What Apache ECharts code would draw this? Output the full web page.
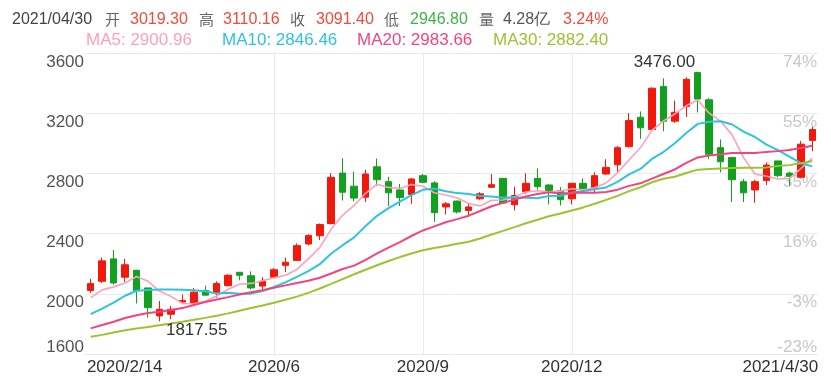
<!DOCTYPE html>
<html>
<head>
<meta charset="utf-8">
<title>周K</title>
<script src="https://cdn.jsdelivr.net/npm/echarts/dist/echarts.min.js"></script>
<style>
html, body { margin: 0; padding: 0; background: #fff; }
#main { width: 831px; height: 376px; }
</style>
</head>
<body>
<div id="main"></div>
<script>
// 周K线日期（每周最后一个交易日）
var dates = ['2020/2/14', '2020/2/21', '2020/2/28', '2020/3/6', '2020/3/13', '2020/3/20', '2020/3/27', '2020/4/3',
    '2020/4/10', '2020/4/17', '2020/4/24', '2020/4/30', '2020/5/8', '2020/5/15', '2020/5/22', '2020/5/29',
    '2020/6/5', '2020/6/12', '2020/6/19', '2020/6/24', '2020/7/3', '2020/7/10', '2020/7/17', '2020/7/24',
    '2020/7/31', '2020/8/7', '2020/8/14', '2020/8/21', '2020/8/28', '2020/9/4', '2020/9/11', '2020/9/18',
    '2020/9/25', '2020/9/30', '2020/10/9', '2020/10/16', '2020/10/23', '2020/10/30', '2020/11/6', '2020/11/13',
    '2020/11/20', '2020/11/27', '2020/12/4', '2020/12/11', '2020/12/18', '2020/12/25', '2020/12/31', '2021/1/8',
    '2021/1/15', '2021/1/22', '2021/1/29', '2021/2/5', '2021/2/10', '2021/2/19', '2021/2/26', '2021/3/5',
    '2021/3/12', '2021/3/19', '2021/3/26', '2021/4/2', '2021/4/9', '2021/4/16', '2021/4/23', '2021/4/30'];

var openData = [2022, 2083, 2232, 2110, 2156, 2039, 1853, 1864, 1945, 1941, 2022, 2006, 2054, 2143, 2120, 2051,
    2110, 2189, 2222, 2331, 2386, 2467, 2802, 2715, 2642, 2844, 2745, 2690, 2660, 2785, 2737, 2577,
    2616, 2554, 2631, 2708, 2767, 2592, 2679, 2767, 2723, 2686, 2631, 2734, 2702, 2796, 2857, 2978,
    3173, 3092, 3377, 3147, 3245, 3470, 3289, 2971, 2906, 2745, 2690, 2752, 2883, 2802, 2774, 3019.30];
var closeData = [2068, 2219, 2072, 2193, 2022, 1908, 1897, 1897, 1956, 2011, 1991, 2068, 2123, 2123, 2039, 2083,
    2160, 2210, 2320, 2388, 2460, 2774, 2675, 2636, 2796, 2758, 2671, 2640, 2763, 2741, 2539, 2598,
    2544, 2577, 2664, 2725, 2603, 2653, 2734, 2712, 2686, 2625, 2734, 2697, 2785, 2840, 2971, 3151,
    3103, 3366, 3147, 3206, 3425, 3294, 2927, 2877, 2758, 2671, 2745, 2855, 2785, 2781, 2994.4, 3091.40];
var lowData = [2006, 2072, 2061, 2079, 1936, 1842, 1817.55, 1831, 1941, 1919, 1991, 1974, 2050, 2090, 2028, 2028,
    2105, 2145, 2219, 2322, 2357, 2460, 2620, 2614, 2610, 2715, 2583, 2583, 2598, 2735, 2478, 2528,
    2533, 2511, 2625, 2704, 2598, 2554, 2664, 2692, 2594, 2587, 2594, 2686, 2675, 2791, 2807, 2971,
    3030, 3087, 3080, 3136, 3175, 3205, 2894, 2807, 2610, 2610, 2605, 2723, 2774, 2719, 2767, 2946.80];
var highData = [2098, 2241, 2291, 2232, 2160, 2039, 1952, 1919, 1995, 2039, 2054, 2083, 2131, 2145, 2149, 2110,
    2171, 2240, 2335, 2395, 2467, 2802, 2901, 2811, 2824, 2899, 2778, 2730, 2769, 2796, 2748, 2610,
    2620, 2598, 2675, 2796, 2767, 2712, 2800, 2833, 2730, 2708, 2734, 2767, 2807, 2894, 2982, 3201,
    3212, 3372, 3432, 3284, 3438, 3476.00, 3300, 3026, 2906, 2763, 2758, 2873, 2883, 2811, 3015, 3110.16];

// 均线
var ma5 = [1974, 2026, 2046, 2072, 2115, 2083, 2018, 1983, 1936, 1934, 1950, 1985, 2030, 2063, 2069, 2087,
    2106, 2123, 2162, 2232, 2308, 2430, 2523, 2587, 2668, 2728, 2707, 2700, 2726, 2715, 2671, 2656,
    2637, 2600, 2584, 2622, 2623, 2644, 2676, 2685, 2678, 2682, 2698, 2691, 2705, 2736, 2805, 2889,
    2970, 3086, 3148, 3195, 3249, 3288, 3200, 3146, 3056, 2905, 2796, 2781, 2763, 2767, 2832, 2900.96];
var ma10 = [1865, 1901, 1941, 1987, 2020, 2026, 2028, 2028, 2027, 2024, 2017, 2002, 2007, 2000, 2001, 2019,
    2045, 2076, 2113, 2151, 2197, 2268, 2323, 2375, 2450, 2518, 2569, 2612, 2656, 2691, 2699, 2682,
    2669, 2663, 2650, 2646, 2639, 2641, 2638, 2635, 2650, 2652, 2671, 2683, 2695, 2707, 2744, 2794,
    2830, 2896, 2942, 3000, 3069, 3129, 3143, 3147, 3125, 3077, 3042, 2991, 2954, 2912, 2868, 2846.46];
var ma20 = [1770, 1793, 1814, 1839, 1858, 1872, 1881, 1893, 1905, 1926, 1945, 1962, 1978, 1995, 2010, 2024,
    2040, 2056, 2072, 2087, 2107, 2135, 2165, 2187, 2226, 2268, 2307, 2344, 2384, 2421, 2448, 2475,
    2496, 2519, 2550, 2582, 2604, 2626, 2647, 2663, 2674, 2667, 2670, 2673, 2672, 2677, 2692, 2717,
    2734, 2765, 2796, 2826, 2870, 2906, 2919, 2927, 2935, 2935, 2936, 2943, 2948, 2956, 2969, 2983.66];
var ma30 = [1714, 1727, 1743, 1758, 1770, 1780, 1791, 1802, 1814, 1827, 1840, 1854, 1870, 1888, 1905, 1922,
    1940, 1960, 1981, 2006, 2035, 2066, 2098, 2130, 2160, 2190, 2218, 2244, 2268, 2289, 2304, 2317,
    2333, 2346, 2367, 2394, 2418, 2443, 2469, 2492, 2515, 2534, 2554, 2574, 2598, 2624, 2651, 2682,
    2708, 2741, 2764, 2778, 2803, 2825, 2829, 2833, 2836, 2837, 2837, 2840, 2849, 2855, 2868, 2882.40];

// 坐标轴刻度
var yTicks = [1600, 2000, 2400, 2800, 3200, 3600];
var pctLabels = ['-23%', '-3%', '16%', '35%', '55%', '74%'];
var xTickIndex = [0, 16, 29, 42, 63];
var xTickText = ['2020/2/14', '2020/6', '2020/9', '2020/12', '2021/4/30'];
var lastVolume = '4.28亿';

var UP = '#f2190c', DOWN = '#12a11f';
var FONT = '"Liberation Sans", Arial, sans-serif';
var CJK = '"Noto Sans CJK SC", sans-serif';

var kData = [];
for (var i = 0; i < dates.length; i++) {
    kData.push([openData[i], closeData[i], lowData[i], highData[i]]);
}
var n = dates.length - 1;
var chg = (closeData[n] / closeData[n - 1] - 1) * 100;

/*顶部行情信息*/
var headTexts = [dates[n].replace(/\/(\d)\//, '/0$1/'), '开', openData[n].toFixed(2), '高', highData[n].toFixed(2),
    '收', closeData[n].toFixed(2), '低', lowData[n].toFixed(2), '量', lastVolume, chg.toFixed(2) + '%'];
var headColors = ['#444', '#666', '#f44a36', '#666', '#f44a36', '#666', '#f44a36', '#666', '#3fb14a', '#666', '#555', '#f44a36'];
var headX = [12, 105, 130, 199, 223, 290, 316, 384, 410, 479, 503, 563];

var maNames = ['MA5', 'MA10', 'MA20', 'MA30'];
var maSeries = [ma5, ma10, ma20, ma30];
var maColors = ['#ffa0b8', '#2ec4de', '#f2457d', '#9bc430'];
var maX = [86, 222, 357, 493];

var graphic = [];
$each(headTexts, function (t, k) {
    var isCjk = /[\u4e00-\u9fa5]/.test(t) && t.length == 1;
    graphic.push({
        type: 'text', x: headX[k], y: 19.5, silent: true,
        style: {
            text: t, fill: headColors[k], verticalAlign: 'middle',
            fontSize: isCjk ? 15 : 16, fontFamily: isCjk ? CJK : FONT
        }
    });
});
$each(maNames, function (name, k) {
    var arr = maSeries[k];
    graphic.push({
        type: 'text', x: maX[k], y: 40, silent: true,
        style: {
            text: name + ': ' + arr[arr.length - 1].toFixed(2), fill: maColors[k],
            verticalAlign: 'middle', fontSize: 17, fontFamily: FONT
        }
    });
});

function $each(arr, fn) {
    for (var j = 0; j < arr.length; j++) fn(arr[j], j);
}

var yLabelRich = function (color) {
    return {
        t: { padding: [18, 0, 0, 0], fontSize: 17, fontFamily: FONT, color: color },
        b: { padding: [0, 0, 13, 0], fontSize: 17, fontFamily: FONT, color: color }
    };
};

var myChart = echarts.init(document.getElementById('main'));
var option = {
    animation: false,
    backgroundColor: '#fff',
    graphic: graphic,
    grid: { left: 85, right: 13, top: 53, height: 304 },
    xAxis: {
        type: 'category',
        data: dates,
        boundaryGap: true,
        axisLine: { show: false },
        axisTick: { show: false },
        axisLabel: {
            margin: 5,
            interval: function (idx) { return xTickIndex.indexOf(idx) >= 0; },
            formatter: function (v, idx) {
                var k = xTickIndex.indexOf(idx);
                if (k == 0) return '{l|' + xTickText[k] + '}';
                if (k == xTickIndex.length - 1) return '{r|' + xTickText[k] + '}';
                return '{m|' + xTickText[k] + '}';
            },
            rich: {
                l: { padding: [0, 0, 0, 68], fontSize: 17, fontFamily: FONT, color: '#333' },
                m: { fontSize: 17, fontFamily: FONT, color: '#333' },
                r: { padding: [0, 64, 0, 0], fontSize: 17, fontFamily: FONT, color: '#333' }
            }
        },
        splitLine: {
            show: true,
            alignWithLabel: true,
            interval: function (idx) { return idx == 16 || idx == 29 || idx == 42; },
            lineStyle: { color: '#ebebeb', width: 1 }
        }
    },
    yAxis: [{
        type: 'value',
        min: yTicks[0],
        max: yTicks[yTicks.length - 1],
        interval: 400,
        position: 'left',
        axisLine: { show: false },
        axisTick: { show: false },
        axisLabel: {
            margin: 1,
            formatter: function (v) {
                return v == yTicks[0] ? '{b|' + v + '}' : '{t|' + v + '}';
            },
            rich: yLabelRich('#555')
        },
        splitLine: { lineStyle: { color: '#ebebeb', width: 1 } }
    }, {
        type: 'value',
        min: yTicks[0],
        max: yTicks[yTicks.length - 1],
        interval: 400,
        position: 'right',
        axisLine: { show: false },
        axisTick: { show: false },
        splitLine: { show: false },
        axisLabel: {
            inside: true,
            margin: 1,
            formatter: function (v) {
                var k = yTicks.indexOf(v);
                return k == 0 ? '{b|' + pctLabels[k] + '}' : '{t|' + pctLabels[k] + '}';
            },
            rich: yLabelRich('#c8c8c8')
        }
    }],
    series: [{
        name: 'K',
        type: 'candlestick',
        data: kData,
        barWidth: 7,
        itemStyle: { color: UP, color0: DOWN, borderColor: UP, borderColor0: DOWN, borderWidth: 1 },
        markPoint: {
            symbol: 'circle',
            symbolSize: 1,
            itemStyle: { color: 'rgba(0,0,0,0)' },
            label: {
                color: '#333', fontSize: 17, fontFamily: FONT,
                formatter: function (p) { return Number(p.value).toFixed(2); }
            },
            data: [
                { type: 'max', valueDim: 'highest', label: { position: 'left', distance: 2, offset: [0, -9] } },
                { type: 'min', valueDim: 'lowest', label: { position: 'right', distance: 6, offset: [0, 9] } }
            ]
        }
    }]
};
$each(maNames, function (name, k) {
    option.series.push({
        name: name,
        type: 'line',
        data: maSeries[k],
        showSymbol: false,
        symbol: 'none',
        lineStyle: { color: maColors[k], width: k == 0 ? 1.6 : 2 },
        z: 3
    });
});
myChart.setOption(option);
</script>
</body>
</html>
